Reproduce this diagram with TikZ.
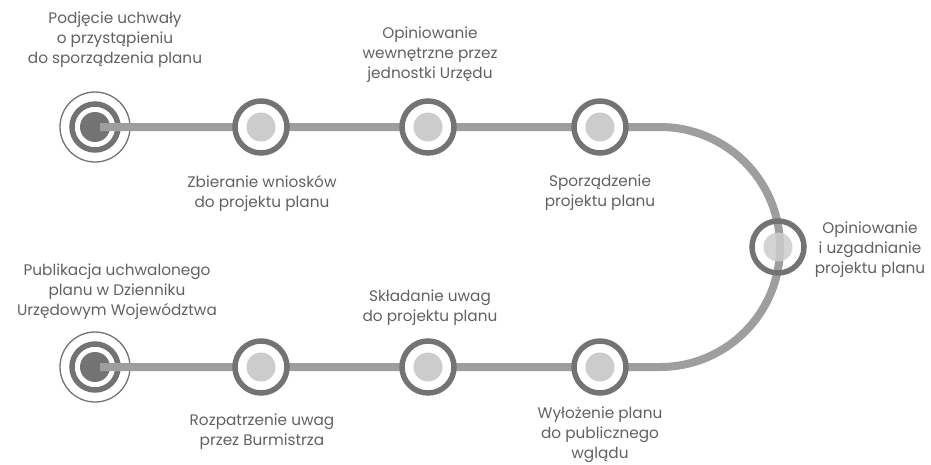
\documentclass[tikz,border=0pt]{standalone}
\usepackage{fontspec}
\setmainfont{Poppins}
\begin{document}
\begin{tikzpicture}[x=1pt,y=-1pt,
  track/.style={line width=8pt,draw=black!38},
  ring/.style={circle,draw=black!55,line width=5.5pt,minimum size=52pt,inner sep=0pt,fill=white},
  dot/.style={circle,fill=black!20,minimum size=29pt,inner sep=0pt},
  startring/.style={circle,draw=black!55,line width=5.5pt,minimum size=46pt,inner sep=0pt,fill=white},
  startouter/.style={circle,draw=black!55,line width=1.3pt,minimum size=70pt,inner sep=0pt,fill=white},
  startdot/.style={circle,fill=black!55,minimum size=30pt,inner sep=0pt},
  lbl/.style={align=center,font=\fontsize{15.3}{20}\selectfont,text=black!62,inner sep=0pt}]
\useasboundingbox (0,0) rectangle (931,464);
% start nodes
\node[startouter] (s1o) at (95,127) {};
\node[startring] (s1r) at (95,127) {};
\node[startdot] (s1) at (95,127) {};
\node[startouter] (e1o) at (95,367) {};
\node[startring] (e1r) at (95,367) {};
\node[startdot] (e1) at (95,367) {};
% turning coordinates
\coordinate (t1) at (660,127);
\coordinate (t2) at (660,367);
% track
\draw[track] (s1.center) ++(5,0) -- (t1) arc[start angle=-90,end angle=90,radius=120] -- ([xshift=5pt]e1.center);
% regular nodes
\node[ring] (n1) at (261,127) {};
\node[dot] at (n1) {};
\node[ring] (n2) at (428,127) {};
\node[dot] at (n2) {};
\node[ring] (n3) at (600,127) {};
\node[dot] at (n3) {};
\node[ring] (m1) at (261,367) {};
\node[dot] at (m1) {};
\node[ring] (m2) at (428,367) {};
\node[dot] at (m2) {};
\node[ring] (m3) at (600,367) {};
\node[dot] at (m3) {};
% middle node on arc
\node[ring,fill=none] (r1) at (778,247) {};
\node[dot,opacity=0.85] at (r1) {};
% labels
\node[lbl] at (115,40) {Podjęcie uchwały\\o przystąpieniu\\do sporządzenia planu};
\node[lbl] at (430,55) {Opiniowanie\\wewnętrzne przez\\jednostki Urzędu};
\node[lbl] at (262,193) {Zbieranie wniosków\\do projektu planu};
\node[lbl] at (600,193) {Sporządzenie\\projektu planu};
\node[lbl] at (870,250) {Opiniowanie\\i uzgadnianie\\projektu planu};
\node[lbl] at (117,292) {Publikacja uchwalonego\\planu w Dzienniku\\Urzędowym Województwa};
\node[lbl] at (430,308) {Składanie uwag\\do projektu planu};
\node[lbl] at (262,432) {Rozpatrzenie uwag\\przez Burmistrza};
\node[lbl] at (600,435) {Wyłożenie planu\\do publicznego\\wglądu};
\end{tikzpicture}
\end{document}
